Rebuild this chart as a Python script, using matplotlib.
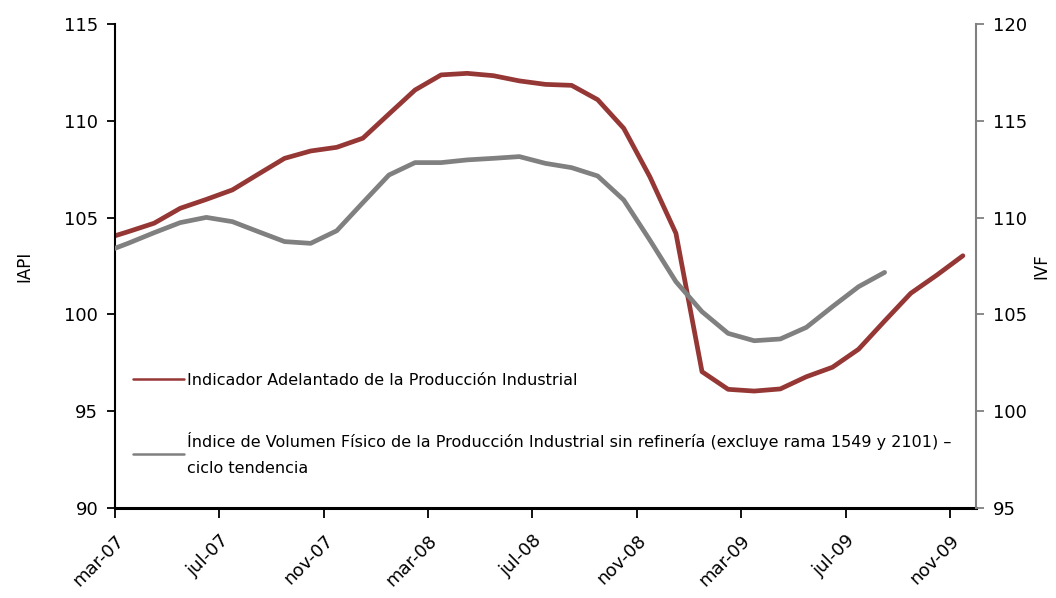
import numpy as np
import matplotlib
matplotlib.use("Agg")
import matplotlib.pyplot as plt

# monthly series, first value is feb-07 (clipped by the axis start at mar-07)
iapi = [103.85, 104.27, 104.71, 105.48, 105.94, 106.43, 107.25, 108.06, 108.44, 108.63,
        109.10, 110.35, 111.59, 112.37, 112.45, 112.33, 112.06, 111.88, 111.83, 111.09,
        109.61, 107.11, 104.19, 97.04, 96.13, 96.04, 96.15, 96.78, 97.27, 98.20,
        99.66, 101.09, 102.03, 103.03]
ivf = [108.16, 108.67, 109.22, 109.74, 110.01, 109.79, 109.27, 108.76, 108.67, 109.32,
       110.77, 112.20, 112.84, 112.84, 112.98, 113.06, 113.15, 112.80, 112.58, 112.15,
       110.91, 108.84, 106.69, 105.14, 104.02, 103.64, 103.73, 104.33, 105.40, 106.43,
       107.17]
tick_labels = ['mar-07', 'jul-07', 'nov-07', 'mar-08', 'jul-08', 'nov-08',
               'mar-09', 'jul-09', 'nov-09']

red = '#953735'
gray = '#808080'

x1 = np.arange(len(iapi)) - 0.5
x2 = np.arange(len(ivf)) - 0.5

fig = plt.figure(figsize=(10.56, 5.98), dpi=100)
ax = fig.add_axes([0.1089, 0.1505, 0.8153, 0.8094])
ax2 = ax.twinx()

l1, = ax.plot(x1, iapi, color=red, lw=3.4, solid_capstyle='round',
              label='Indicador Adelantado de la Producción Industrial')
l2, = ax2.plot(x2, ivf, color=gray, lw=3.4, solid_capstyle='round',
               label='Índice de Volumen Físico de la Producción Industrial sin refinería (excluye rama 1549 y 2101) –\nciclo tendencia')

ax.set_xlim(0, 33)
ax.set_ylim(90, 115)
ax2.set_ylim(95, 120)
ax.set_yticks(np.arange(90, 116, 5))
ax2.set_yticks(np.arange(95, 121, 5))
ax.set_xticks(np.arange(0, 33, 4))
ax.set_xticklabels(tick_labels, rotation=45, ha='right', rotation_mode='anchor')

for a in (ax, ax2):
    a.spines['top'].set_visible(False)
ax.spines['right'].set_visible(False)
ax2.spines['left'].set_visible(False)
ax2.spines['bottom'].set_visible(False)
ax.spines['left'].set_linewidth(1.5)
ax.spines['bottom'].set_linewidth(2.2)
ax2.spines['right'].set_color(gray)
ax2.spines['right'].set_linewidth(1.5)

ax.tick_params(axis='y', direction='out', length=6, width=1.3, labelsize=13, pad=6)
ax.tick_params(axis='x', direction='out', length=7, width=1.3, labelsize=13, pad=10)
ax2.tick_params(axis='y', direction='out', length=6, width=1.3, colors=gray,
                labelcolor='black', labelsize=13, pad=6)

ax.set_ylabel('IAPI', fontsize=12, labelpad=22)
ax2.set_ylabel('IVF', fontsize=12, labelpad=4)

leg = ax.legend(handles=[l1, l2], loc='upper left', bbox_to_anchor=(0.021, 0.279),
                frameon=False, fontsize=11.5, handlelength=3.2, handletextpad=0.15,
                labelspacing=2.75, borderpad=0, borderaxespad=0)
for h in leg.get_lines():
    h.set_linewidth(1.8)
for t in leg.get_texts():
    t.set_linespacing(1.9)

fig.savefig('out.png', dpi=100)
